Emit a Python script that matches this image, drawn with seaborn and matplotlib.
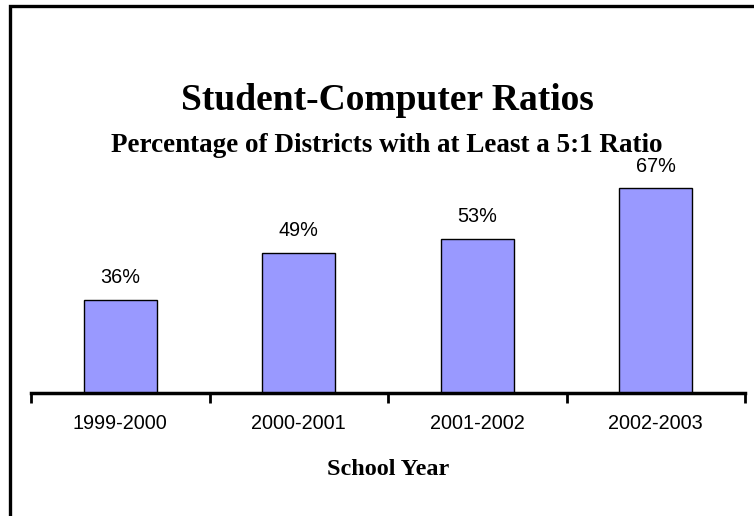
import matplotlib
matplotlib.use("Agg")
import matplotlib.pyplot as plt
import seaborn as sns
import pandas as pd
from matplotlib.patches import Rectangle

years = ["1999-2000", "2000-2001", "2001-2002", "2002-2003"]
percent = [36, 49, 53, 67]
value_labels = ["36%", "49%", "53%", "67%"]

sns.set_style("white")
plt.rcParams["font.family"] = ["Liberation Sans", "DejaVu Sans"]
plt.rcParams["text.color"] = "black"
plt.rcParams["axes.labelcolor"] = "black"
plt.rcParams["xtick.color"] = "black"

df = pd.DataFrame({"year": years, "pct": percent})

fig = plt.figure(figsize=(7.54, 5.16), dpi=100)
ax = fig.add_axes([31 / 754, 123 / 516, 714 / 754, 253 / 516])

sns.barplot(data=df, x="year", y="pct", color="#9999FF", saturation=1,
            edgecolor="black", linewidth=1.0, width=0.41, ax=ax)

for i, (v, lab) in enumerate(zip(percent, value_labels)):
    ax.annotate(lab, (i, v), xytext=(0, 9), textcoords="offset points",
                ha="center", va="bottom", fontsize=14.3, color="black")

ax.set_xlim(-0.5, 3.5)
ax.set_ylim(10.2, 80.3)
ax.set_yticks([])
ax.set_xticks([-0.5, 0.5, 1.5, 2.5, 3.5])
ax.set_xticklabels([])
ax.set_xticks(range(4), minor=True)
ax.set_xticklabels(years, minor=True, fontsize=14.3, color="black")
ax.tick_params(axis="x", which="major", direction="out", length=7, width=2, color="black", bottom=True)
ax.tick_params(axis="x", which="minor", length=0, pad=15)
ax.set_xlabel("School Year", fontsize=17.5, fontweight="bold", color="black",
              family=["Liberation Serif"], labelpad=19)
ax.set_ylabel("")
for s in ["top", "left", "right"]:
    ax.spines[s].set_visible(False)
ax.spines["bottom"].set_linewidth(2.5)
ax.spines["bottom"].set_color("black")

fig.text(387 / 754, 1 - 100 / 516, "Student-Computer Ratios", ha="center", va="center",
         fontsize=27, fontweight="bold", color="black", family=["Liberation Serif"])
fig.text(387 / 754, 1 - 145 / 516, "Percentage of Districts with at Least a 5:1 Ratio",
         ha="center", va="center", fontsize=19.5, fontweight="bold", color="black",
         family=["Liberation Serif"])

fig.patches.append(Rectangle((9.5 / 754, -0.1), 1.2, 1 - 5.5 / 516 + 0.1,
                             transform=fig.transFigure, fill=False,
                             edgecolor="black", linewidth=2.4, clip_on=False))

fig.savefig("out.png", dpi=100)
